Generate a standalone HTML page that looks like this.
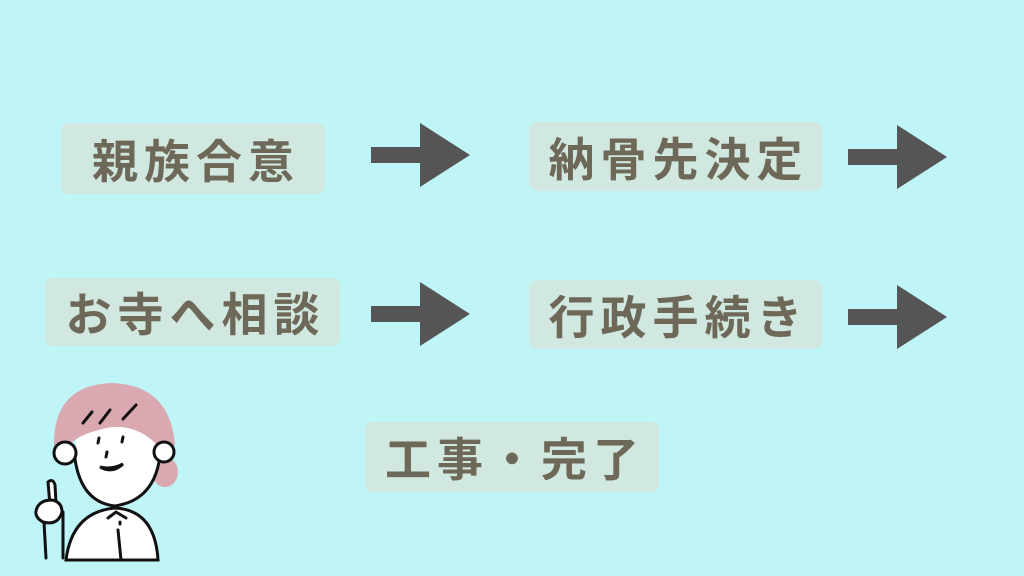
<!DOCTYPE html>
<html><head><meta charset="utf-8"><style>
body{margin:0;width:1024px;height:576px;background:#c0f5f8;position:relative;overflow:hidden;font-family:"Liberation Sans","Noto Sans CJK JP",sans-serif}
.b{position:absolute;background:#d0e8df;border-radius:8px;display:flex;align-items:center;justify-content:center;color:#6e6858;font-weight:bold;font-size:46px;letter-spacing:6px;padding-left:6px;box-sizing:border-box}
svg{position:absolute;left:0;top:0}
</style></head><body>
<div class="b" style="left:61px;top:123px;width:264px;height:71px">親族合意</div>
<div class="b" style="left:529px;top:122px;width:293px;height:69px">納骨先決定</div>
<div class="b" style="left:45px;top:278px;width:295px;height:68px">お寺へ相談</div>
<div class="b" style="left:529px;top:280px;width:293px;height:69px">行政手続き</div>
<div class="b" style="left:365px;top:422px;width:294px;height:70px">工事・完了</div>
<svg width="1024" height="576">
<g fill="#555">
<polygon points="371,147 420,147 420,123 470,155 420,187 420,163 371,163"/>
<polygon points="848,149 897,149 897,125 947,157 897,189 897,165 848,165"/>
<polygon points="371,306 420,306 420,282 470,314 420,346 420,322 371,322"/>
<polygon points="848,309 897,309 897,285 947,317 897,349 897,325 848,325"/>
</g>
<g stroke="#111" stroke-width="3" stroke-linecap="round" fill="none">
<path d="M66,560 Q72,512 115,508 Q155,510 158,560 Z" fill="#fff"/>
<ellipse cx="165" cy="472" rx="13" ry="15" fill="#d9a8b0" stroke="none"/>
<path d="M54,448 Q52,385 112,383 Q170,385 175,445 L160,448 Q130,425 100,430 Q75,436 70,445 Z" fill="#d9a8b0" stroke="none"/>
<path d="M76,440 Q72,500 115,506 Q158,502 160,448 Q140,425 112,427 Q85,432 76,440Z" fill="#fff" stroke="none"/>
<path d="M74,450 Q78,502 115,506 Q155,500 160,455"/>
<circle cx="65" cy="453" r="11" fill="#fff"/>
<circle cx="164" cy="452" r="10" fill="#fff"/>
<path d="M83,423 L92,412 M100,423 L110,410 M123,419 L136,405"/>
<path d="M99,438 L98,443 M123,437 L122,442 M107,452 L106,457"/>
<path d="M100,467 Q112,474 123,464 Q112,470 100,467Z" fill="#fff"/>
<path d="M46,558 L44,522 M63,558 L63,512"/>
<path d="M50,505 L48,482 Q53,478 55,485 L56,503" fill="#fff"/>
<path d="M38,506 Q32,516 43,522 Q58,526 62,512 Q62,502 52,500 Q42,500 38,506Z" fill="#fff"/>
<path d="M108,518 L116,512 L126,518 M118,530 L121,560 M120,522 L120,524"/>
</g>
</svg>
</body></html>
